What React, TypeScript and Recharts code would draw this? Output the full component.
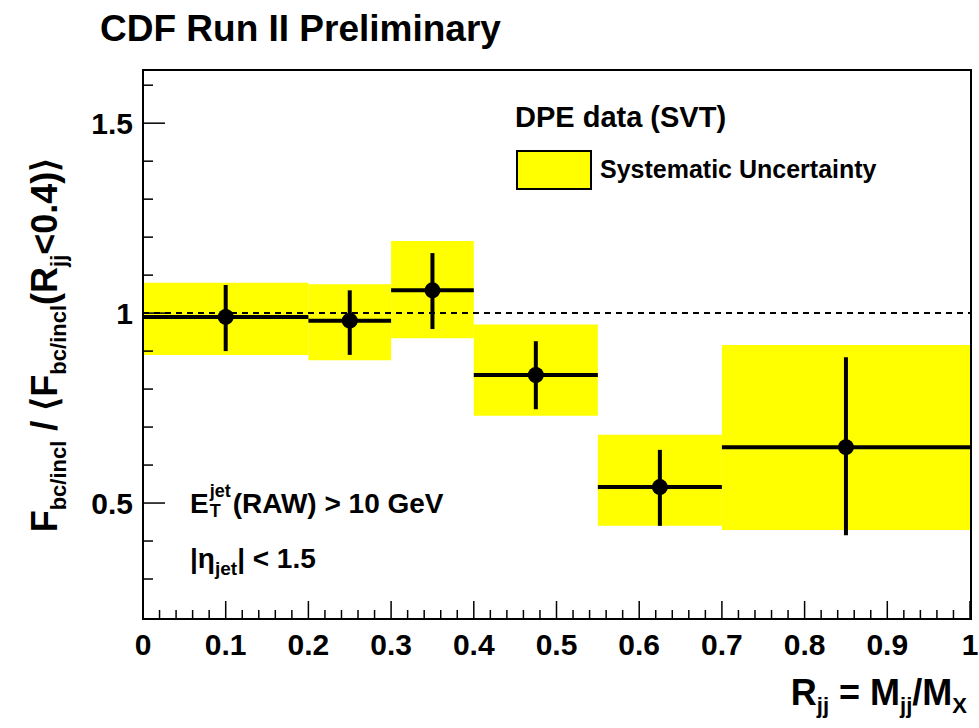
import React from "react";
import {
  ComposedChart,
  XAxis,
  YAxis,
  ReferenceArea,
  ReferenceLine,
  Scatter,
} from "recharts";

const binLow = [0, 0.2, 0.3, 0.4, 0.55, 0.7];
const binHigh = [0.2, 0.3, 0.4, 0.55, 0.7, 1.0];
const centers = [0.1, 0.25, 0.35, 0.475, 0.625, 0.85];
const values = [0.99, 0.98, 1.06, 0.837, 0.542, 0.647];
const statLow = [0.9, 0.89, 0.958, 0.747, 0.44, 0.415];
const statHigh = [1.074, 1.06, 1.158, 0.926, 0.64, 0.884];
const systLow = [0.89, 0.876, 0.934, 0.73, 0.44, 0.429];
const systHigh = [1.08, 1.076, 1.19, 0.97, 0.68, 0.916];

const xTicks = Array.from({ length: 51 }, (_, i) => +(i * 0.02).toFixed(2));
const yTicks = [0.3, 0.4, 0.5, 0.6, 0.7, 0.8, 0.9, 1, 1.1, 1.2, 1.3, 1.4, 1.5, 1.6];
const xLabels = [0, 0.1, 0.2, 0.3, 0.4, 0.5, 0.6, 0.7, 0.8, 0.9, 1];

const points = centers.map((x, i) => ({ x, y: values[i] }));

const FONT = "Liberation Sans, Arial, sans-serif";

function XTick(props: any) {
  const { x, payload } = props;
  const v = payload.value;
  const major = Math.abs(v * 10 - Math.round(v * 10)) < 1e-6;
  const label = xLabels.find((l) => Math.abs(l - v) < 1e-6);
  return (
    <g>
      <line x1={x} x2={x} y1={618} y2={618 - (major ? 17 : 8)} stroke="#000" strokeWidth={1.5} />
      {label !== undefined && (
        <text x={x} y={655} textAnchor="middle" fontSize={30} fontWeight="bold" fontFamily={FONT}>
          {String(label)}
        </text>
      )}
    </g>
  );
}

function YTick(props: any) {
  const { y, payload } = props;
  const v = payload.value;
  const major = Math.abs(v * 2 - Math.round(v * 2)) < 1e-6;
  return (
    <g>
      <line x1={143} x2={143 + (major ? 22 : 10)} y1={y} y2={y} stroke="#000" strokeWidth={1.5} />
      {major && (
        <text x={133} y={y + 11} textAnchor="end" fontSize={30} fontWeight="bold" fontFamily={FONT}>
          {String(v)}
        </text>
      )}
    </g>
  );
}

const sub = { fontSize: 22 };

export default function App() {
  return (
    <div style={{ position: "absolute", left: 0, top: 0, width: 979, height: 728, background: "#fff", fontFamily: FONT }}>
      <ComposedChart width={979} height={728} margin={{ top: 70, right: 9, bottom: 110, left: 142 }}>
        <XAxis type="number" dataKey="x" domain={[0, 1]} ticks={xTicks} interval={0} tick={<XTick />} tickLine={false} axisLine={false} height={1} allowDataOverflow />
        <YAxis type="number" dataKey="y" domain={[0.2, 1.64]} ticks={yTicks} interval={0} tick={<YTick />} tickLine={false} axisLine={false} width={1} allowDataOverflow />
        {binLow.map((lo, i) => (
          <ReferenceArea key={"s" + i} x1={lo} x2={binHigh[i]} y1={systLow[i]} y2={systHigh[i]} fill="#ffff00" fillOpacity={1} stroke="none" ifOverflow="hidden" />
        ))}
        <ReferenceLine y={1} stroke="#000" strokeWidth={2} strokeDasharray="6 5" />
        {binLow.map((lo, i) => (
          <ReferenceLine key={"h" + i} segment={[{ x: lo, y: values[i] }, { x: binHigh[i], y: values[i] }]} stroke="#000" strokeWidth={4} />
        ))}
        {centers.map((c, i) => (
          <ReferenceLine key={"v" + i} segment={[{ x: c, y: statLow[i] }, { x: c, y: statHigh[i] }]} stroke="#000" strokeWidth={4} />
        ))}
        <Scatter data={points} fill="#000" isAnimationActive={false} shape={(p: any) => <circle cx={p.cx} cy={p.cy} r={8} fill="#000" />} />
      </ComposedChart>
      <div style={{ position: "absolute", left: 142, top: 69, width: 830, height: 551, border: "2px solid #000", boxSizing: "border-box", pointerEvents: "none" }} />
      <div style={{ position: "absolute", left: 100, top: 8, fontSize: 37, fontWeight: "bold" }}>CDF Run II Preliminary</div>
      <div style={{ position: "absolute", left: 515, top: 101, fontSize: 29, fontWeight: "bold" }}>DPE data (SVT)</div>
      <div style={{ position: "absolute", left: 516, top: 150, width: 76, height: 40, background: "#ffff00", border: "2px solid #000", boxSizing: "border-box" }} />
      <div style={{ position: "absolute", left: 600, top: 155, fontSize: 25, fontWeight: "bold" }}>Systematic Uncertainty</div>
      <div style={{ position: "absolute", left: 190, top: 488, fontSize: 28, fontWeight: "bold", whiteSpace: "nowrap" }}>
        E
        <span style={{ position: "relative", display: "inline-block", width: 24, height: 20 }}>
          <span style={{ position: "absolute", left: 1, top: -12, fontSize: 18 }}>jet</span>
          <span style={{ position: "absolute", left: 1, top: 8, fontSize: 18 }}>T</span>
        </span>
        (RAW) &gt; 10 GeV
      </div>
      <div style={{ position: "absolute", left: 190, top: 543, fontSize: 28, fontWeight: "bold", whiteSpace: "nowrap" }}>
        |η<sub style={{ fontSize: 19 }}>jet</sub>| &lt; 1.5
      </div>
      <div style={{ position: "absolute", right: 12, top: 672, fontSize: 36, fontWeight: "bold", whiteSpace: "nowrap" }}>
        R<sub style={sub}>jj</sub> = M<sub style={sub}>jj</sub>/M<sub style={sub}>X</sub>
      </div>
      <div style={{ position: "absolute", left: 48, top: 345, transform: "translate(-50%, -50%) rotate(-90deg)", fontSize: 36, fontWeight: "bold", whiteSpace: "nowrap" }}>
        F<sub style={sub}>bc/incl</sub> / ⟨F<sub style={sub}>bc/incl</sub>(R<sub style={sub}>jj</sub>&lt;0.4)⟩
      </div>
    </div>
  );
}
